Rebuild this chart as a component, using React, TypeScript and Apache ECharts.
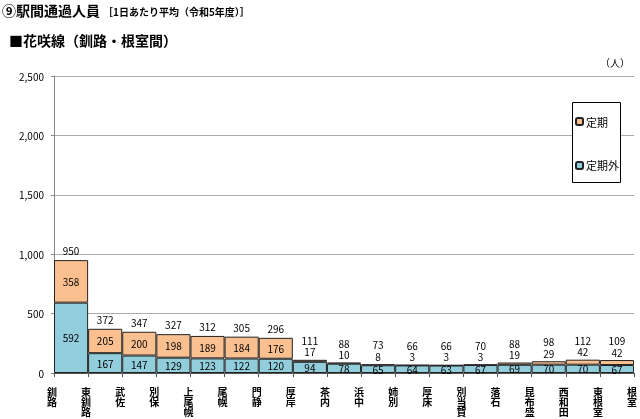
import React, { useEffect, useRef } from "react";
import * as echarts from "echarts";

const stations = ["釧路", "東釧路", "武佐", "別保", "上尾幌", "尾幌", "門静", "厚岸", "茶内", "浜中", "姉別", "厚床", "別当賀", "落石", "昆布盛", "西和田", "東根室", "根室"];
const sections = ["1", "2", "3", "4", "5", "6", "7", "8", "9", "10", "11", "12", "13", "14", "15", "16", "17"];
const teiki = [358, 205, 200, 198, 189, 184, 176, 17, 10, 8, 3, 3, 3, 19, 29, 42, 42];
const teikigai = [592, 167, 147, 129, 123, 122, 120, 94, 78, 65, 64, 63, 67, 69, 70, 70, 67];
const totals = [950, 372, 347, 327, 312, 305, 296, 111, 88, 73, 66, 66, 70, 88, 98, 112, 109];
const yTicks = { min: 0, max: 2500, interval: 500 };

const FONT = "'Noto Sans CJK JP', sans-serif";

export default function App() {
  const ref = useRef<HTMLDivElement>(null);
  useEffect(() => {
    if (!ref.current) return;
    const chart = echarts.init(ref.current, null, { renderer: "svg" });
    const big = (i: number) => i < 7;
    chart.setOption({
      animation: false,
      textStyle: { fontFamily: FONT },
      graphic: [
        { type: "text", left: 2, top: 3, style: { text: "⑨駅間通過人員", font: `bold 14px ${FONT}`, fill: "#000" } },
        { type: "text", left: 103, top: 6, style: { text: "［1日あたり平均（令和5年度）］", font: `bold 10px ${FONT}`, fill: "#000" } },
        { type: "text", left: 9, top: 33, style: { text: "■花咲線（釧路・根室間）", font: `bold 14px ${FONT}`, fill: "#000" } },
        { type: "text", left: 600, top: 57, style: { text: "（人）", font: `10px ${FONT}`, fill: "#000" } },
        { type: "rect", shape: { x: 572.5, y: 102.5, width: 48, height: 80 }, style: { fill: "#fff", stroke: "#000", lineWidth: 1 }, z: 10 },
      ],
      legend: {
        data: ["定期", "定期外"],
        orient: "vertical",
        left: 575,
        top: 116,
        itemWidth: 7,
        itemHeight: 7,
        itemGap: 33,
        padding: 0,
        z: 20,
        textStyle: { fontSize: 11, color: "#000", fontFamily: FONT, padding: [0, 0, 0, -2] },
      },
      grid: { left: 54, right: 6, top: 76, bottom: 46, outerBoundsMode: "none", containLabel: false },
      xAxis: [
        {
          type: "category",
          data: sections,
          axisLine: { lineStyle: { color: "#555", width: 1 } },
          axisTick: { show: true, length: 4, lineStyle: { color: "#555" } },
          axisLabel: { show: false },
        },
        {
          type: "category",
          data: stations,
          boundaryGap: false,
          position: "bottom",
          axisLine: { show: false },
          axisTick: { show: false },
          axisLabel: {
            interval: 0,
            margin: 13,
            fontSize: 10,
            lineHeight: 10,
            color: "#000",
            fontWeight: "bold",
            verticalAlign: "top",
            padding: [0, 4, 0, 0],
            hideOverlap: false,
            formatter: (v: string) => v.split("").join("\n"),
          },
        },
      ],
      yAxis: {
        type: "value",
        ...yTicks,
        axisLine: { show: true, lineStyle: { color: "#888" } },
        axisTick: { show: true, length: 3, lineStyle: { color: "#888" } },
        splitLine: { lineStyle: { color: "#aaa" } },
        axisLabel: {
          margin: 10,
          fontSize: 10,
          color: "#000",
          formatter: (v: number) => v.toLocaleString("en-US"),
        },
      },
      series: [
        {
          name: "定期外",
          type: "bar",
          stack: "a",
          barCategoryGap: "0%",
          data: teikigai,
          itemStyle: { color: "#92CDDC", borderColor: "#222", borderWidth: 1 },
          label: { show: true, position: "inside", fontSize: 10, color: "#000" },
        },
        {
          name: "定期",
          type: "bar",
          stack: "a",
          barCategoryGap: "0%",
          data: teiki.map((v, i) => ({
            value: v,
            label: big(i) ? { position: "inside" } : { position: "top", distance: 3 },
          })),
          itemStyle: { color: "#FAC090", borderColor: "#222", borderWidth: 1 },
          label: { show: true, fontSize: 10, color: "#000" },
        },
        {
          name: "合計",
          type: "line",
          data: totals.map((v, i) => ({ value: v, label: { distance: big(i) ? 4 : 14 } })),
          symbol: "circle",
          symbolSize: 1,
          showSymbol: true,
          itemStyle: { color: "rgba(0,0,0,0)" },
          lineStyle: { width: 0, color: "rgba(0,0,0,0)" },
          z: 5,
          label: { show: true, position: "top", fontSize: 10, color: "#000" },
        },
      ],
    });
    return () => chart.dispose();
  }, []);
  return <div ref={ref} style={{ position: "fixed", left: 0, top: 0, width: 640, height: 419 }} />;
}
